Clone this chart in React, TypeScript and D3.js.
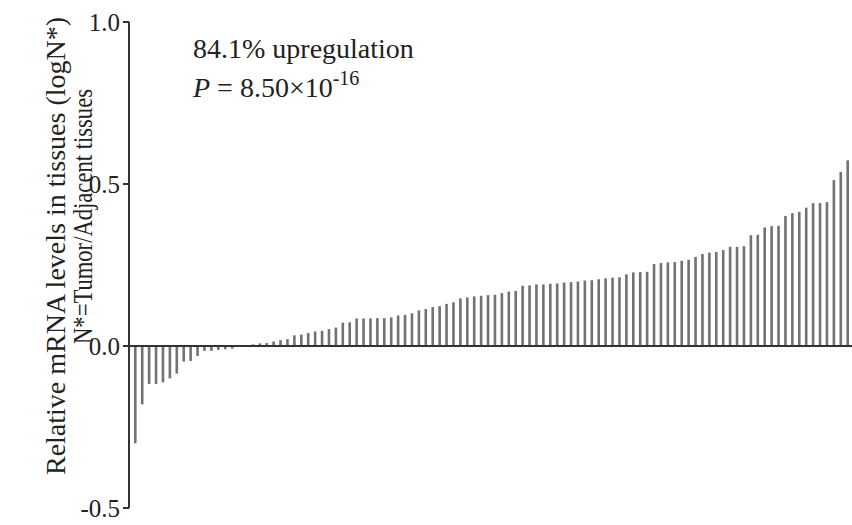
import React from "react";
import * as d3 from "d3";

const values: number[] = [
  -0.30, -0.18, -0.117, -0.117, -0.112, -0.10, -0.085, -0.048, -0.046, -0.031,
  -0.015, -0.015, -0.012, -0.010, -0.008, -0.003, 0.002,
  0.005, 0.008, 0.009, 0.014, 0.018, 0.021, 0.033, 0.035, 0.040, 0.045, 0.047,
  0.052, 0.057, 0.072, 0.073, 0.085, 0.085, 0.085, 0.086, 0.086, 0.088, 0.094,
  0.096, 0.101, 0.110, 0.114, 0.120, 0.123, 0.130, 0.135, 0.147, 0.150, 0.153,
  0.155, 0.157, 0.158, 0.163, 0.168, 0.170, 0.186, 0.187, 0.190, 0.190, 0.192,
  0.193, 0.196, 0.197, 0.199, 0.202, 0.203, 0.206, 0.209, 0.211, 0.212, 0.221,
  0.227, 0.228, 0.229, 0.253, 0.256, 0.258, 0.259, 0.263, 0.266, 0.275, 0.284,
  0.288, 0.290, 0.296, 0.306, 0.306, 0.308, 0.342, 0.343, 0.366, 0.370, 0.371,
  0.401, 0.410, 0.414, 0.427, 0.441, 0.441, 0.444, 0.512, 0.537, 0.573,
];

const yTicks: number[] = [-0.5, 0.0, 0.5, 1.0];
const yTickLabels: string[] = ["-0.5", "0.0", "0.5", "1.0"];
const yLabelLine1 = "Relative mRNA levels  in tissues (logN*)";
const yLabelLine2 = "N*=Tumor/Adjacent tissues";
const annot1 = "84.1% upregulation";

export default function App() {
  const W = 852;
  const H = 525;
  const axisX = 129;
  const y = d3.scaleLinear().domain([-0.5, 1.0]).range([508, 22]);
  const x = d3.scaleLinear().domain([0, values.length - 1]).range([135.3, 847.7]);
  const font = "'Liberation Serif', 'Times New Roman', serif";
  const barW = 2.6;

  return (
    <svg
      width={W}
      height={H}
      style={{ position: "absolute", left: 0, top: 0, background: "#fff" }}
      fontFamily={font}
    >
      {/* bars */}
      {values.map((v, i) => (
        <rect
          key={i}
          x={x(i) - barW / 2}
          y={Math.min(y(v), y(0))}
          width={barW}
          height={Math.abs(y(v) - y(0))}
          fill="#727272"
        />
      ))}
      {/* zero baseline */}
      <line x1={axisX} x2={W} y1={y(0)} y2={y(0)} stroke="#333" strokeWidth={2} />
      {/* y axis */}
      <line x1={axisX} x2={axisX} y1={y(1.0)} y2={y(-0.5)} stroke="#333" strokeWidth={2} />
      {yTicks.map((t, i) => (
        <g key={t}>
          <line x1={axisX - 6} x2={axisX} y1={y(t)} y2={y(t)} stroke="#333" strokeWidth={2} />
          <text
            x={120}
            y={y(t)}
            dy="0.35em"
            textAnchor="end"
            fontSize={25}
            fill="#222"
          >
            {yTickLabels[i]}
          </text>
        </g>
      ))}
      {/* y label */}
      <g transform={`translate(65, 246) rotate(-90)`}>
        <text x={0} y={0} textAnchor="middle" fontSize={28} fill="#222">
          {yLabelLine1}
        </text>
      </g>
      <g transform={`translate(92, 217) rotate(-90)`}>
        <text
          x={-127}
          y={0}
          fontSize={27}
          fill="#222"
          textLength={255}
          lengthAdjust="spacingAndGlyphs"
        >
          {yLabelLine2}
        </text>
      </g>
      {/* annotation */}
      <text x={193} y={58} fontSize={28} fill="#222">
        {annot1}
      </text>
      <text x={193} y={97} fontSize={28} fill="#222">
        <tspan fontStyle="italic">P</tspan>
        <tspan> = 8.50×10</tspan>
        <tspan fontSize={20} dy={-12}>-16</tspan>
      </text>
    </svg>
  );
}
